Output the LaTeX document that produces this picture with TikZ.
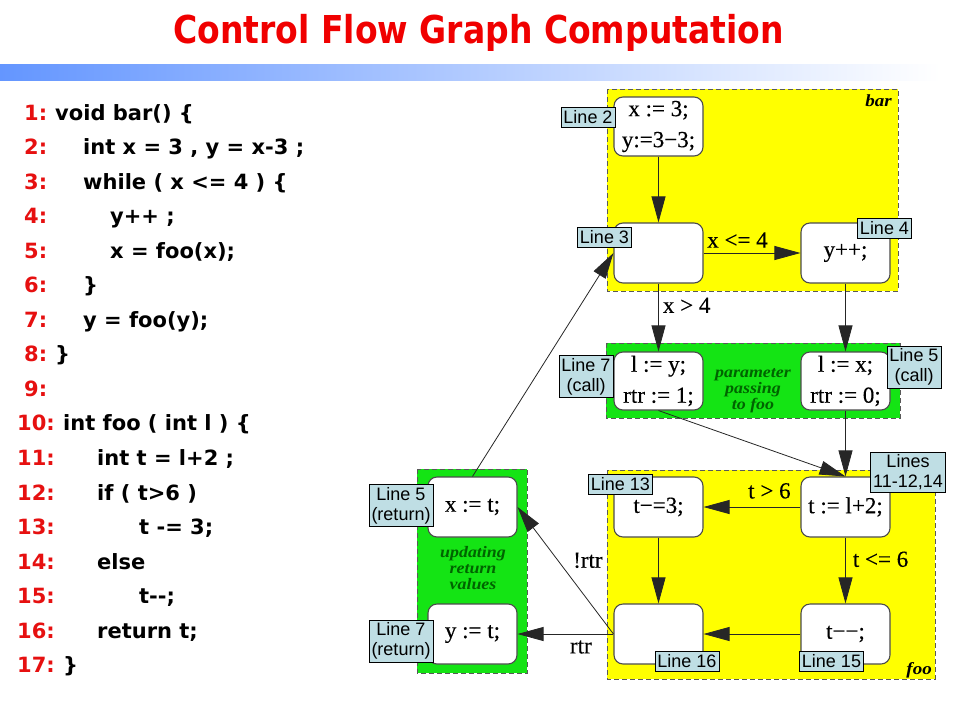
\documentclass[tikz,border=0pt]{standalone}
\usepackage{fontspec}
\usetikzlibrary{arrows.meta}

\newfontfamily\titlefont[FakeStretch=0.86]{DejaVu Sans}
\newfontfamily\codefont[Ligatures=TeXOff]{DejaVu Sans}
\newfontfamily\cfgfont[FakeBold=0.3]{Liberation Serif}
\newfontfamily\notefont[FakeStretch=1.12]{Liberation Serif}
\newfontfamily\tagfont{Liberation Sans}

\definecolor{titlered}{RGB}{240,0,0}
\definecolor{numred}{RGB}{230,16,16}
\definecolor{barblue}{RGB}{100,150,255}
\definecolor{clyellow}{RGB}{255,255,0}
\definecolor{clgreen}{RGB}{20,228,20}
\definecolor{notegreen}{RGB}{0,100,0}
\definecolor{tagblue}{RGB}{191,222,228}

\begin{document}
\begin{tikzpicture}[x=1pt,y=-1pt,
    codeno/.style={anchor=base west,inner sep=0pt,text=numred,font=\codefont\bfseries\fontsize{21}{24}\selectfont},
    code/.style={anchor=base west,inner sep=0pt,font=\codefont\bfseries\fontsize{21}{24}\selectfont},
    cluster/.style={draw=black!65,dash pattern=on 5pt off 3pt,line width=0.9pt},
    block/.style={draw=black!70,line width=1.1pt,rounded corners=9pt,fill=white,minimum width=89pt,minimum height=60pt,align=center,inner sep=1pt,font=\cfgfont\fontsize{23}{31}\selectfont},
    tag/.style={draw=black,line width=0.6pt,fill=tagblue,align=center,inner sep=2.5pt,minimum height=20pt,font=\tagfont\fontsize{18}{20}\selectfont},
    flow/.style={draw=black!85,line width=0.8pt,-{Triangle[length=26pt,width=14pt]}},
    edgelbl/.style={inner sep=1pt,font=\cfgfont\fontsize{23}{24}\selectfont},
    clnote/.style={align=center,inner sep=0pt,text=notegreen,font=\notefont\bfseries\itshape\fontsize{16}{16}\selectfont},
    clname/.style={inner sep=0pt,anchor=east,font=\notefont\bfseries\itshape\fontsize{17}{17}\selectfont}]

\useasboundingbox (0,0) rectangle (960,720);

% title and bar
\node[anchor=base,inner sep=0pt,text=titlered,font=\titlefont\bfseries\fontsize{38.4}{40}\selectfont] (title) at (478.5,43) {Control Flow Graph Computation};
\shade[left color=barblue,right color=white] (0,64) rectangle (940,80);

% source code
\node[codeno] (no1) at (24,120) {1:};   \node[code] (c1) at (55,120) {void bar() \{};
\node[codeno] (no2) at (24,154.5) {2:}; \node[code] (c2) at (83,154.5) {int x = 3 , y = x-3 ;};
\node[codeno] (no3) at (24,189.1) {3:}; \node[code] (c3) at (83,189.1) {while ( x <= 4 ) \{};
\node[codeno] (no4) at (24,223.6) {4:}; \node[code] (c4) at (110,223.6) {y++ ;};
\node[codeno] (no5) at (24,258.2) {5:}; \node[code] (c5) at (110,258.2) {x = foo(x);};
\node[codeno] (no6) at (24,292.7) {6:}; \node[code] (c6) at (83,292.7) {\}};
\node[codeno] (no7) at (24,327.3) {7:}; \node[code] (c7) at (83,327.3) {y = foo(y);};
\node[codeno] (no8) at (24,361.8) {8:}; \node[code] (c8) at (55,361.8) {\}};
\node[codeno] (no9) at (24,396.4) {9:};
\node[codeno] (no10) at (17,430.9) {10:}; \node[code] (c10) at (63,430.9) {int foo ( int l ) \{};
\node[codeno] (no11) at (17,465.5) {11:}; \node[code] (c11) at (97,465.5) {int t = l+2 ;};
\node[codeno] (no12) at (17,500) {12:};   \node[code] (c12) at (97,500) {if ( t>6 )};
\node[codeno] (no13) at (17,534.6) {13:}; \node[code] (c13) at (139,534.6) {t -= 3;};
\node[codeno] (no14) at (17,569.1) {14:}; \node[code] (c14) at (97,569.1) {else};
\node[codeno] (no15) at (17,603.7) {15:}; \node[code] (c15) at (139,603.7) {t--;};
\node[codeno] (no16) at (17,638.2) {16:}; \node[code] (c16) at (97,638.2) {return t;};
\node[codeno] (no17) at (17,672.8) {17:}; \node[code] (c17) at (63,672.8) {\}};

% clusters
\draw[cluster,fill=clyellow] (607,89) rectangle (898,291);
\draw[cluster,fill=clgreen] (606,343) rectangle (900,418);
\draw[cluster,fill=clgreen] (417,469) rectangle (527,673);
\draw[cluster,fill=clyellow] (607,470) rectangle (935,679);
\node[clname] (barname) at (892,101) {bar};
\node[clname] (fooname) at (932,670) {foo};
\node[clnote] (passnote) at (753,391) {parameter\\passing\\to foo};
\node[clnote] (retnote) at (473,568) {updating\\return\\values};

% blocks
\node[block,minimum height=59pt] (n2) at (658.5,126.5) {x := 3;\\y:=3−3;};
\node[block] (n3) at (658.5,253) {};
\node[block] (n4) at (845.5,253) {y++;};
\node[block,minimum height=58pt] (n7c) at (658.5,381) {l := y;\\rtr := 1;};
\node[block,minimum height=58pt] (n5c) at (845.5,381) {l := x;\\rtr := 0;};
\node[block] (n13) at (658.5,507) {t−=3;};
\node[block] (n11) at (845.5,507) {t := l+2;};
\node[block] (n16) at (658.5,634) {};
\node[block] (n15) at (845.5,634) {t−−;};
\node[block] (nxt) at (472.5,507) {x := t;};
\node[block] (nyt) at (472.5,634) {y := t;};

% edges
\draw[flow] (n2) -- (n3);
\draw[flow] (n3) -- node[edgelbl,above=4pt,pos=0.35] (lxle) {x <= 4} (n4);
\draw[flow] (n3) -- node[edgelbl,right=3pt,pos=0.32] (lxgt) {x > 4} (n7c);
\draw[flow] (n4) -- (n5c);
\draw[flow] (n7c.south) -- (n11.north);
\draw[flow] (n5c) -- (n11);
\draw[flow] (n11) -- node[edgelbl,above=7pt,pos=0.32] (ltgt) {t > 6} (n13);
\draw[flow] (n11) -- node[edgelbl,right=6pt,pos=0.33] (ltle) {t <= 6} (n15);
\draw[flow] (n13) -- (n16);
\draw[flow] (n15) -- (n16);
\draw[flow] (n16.west) -- node[edgelbl,below=5pt,pos=0.34] (lrtr) {rtr} (nyt.east);
\draw[flow] (n16.west) -- node[edgelbl,right=14pt,pos=0.58] (lnrtr) {!rtr} (nxt.east);
\draw[flow] (nxt.north) -- (n3.west);

% line tags
\node[tag] (tg2) at (588,117) {Line 2};
\node[tag] (tg3) at (604.5,237) {Line 3};
\node[tag] (tg4) at (884.5,228) {Line 4};
\node[tag] (tg7c) at (586,376.5) {Line 7\\(call)};
\node[tag] (tg5c) at (914,367) {Line 5\\(call)};
\node[tag] (tg11) at (908,472.5) {Lines\\11-12,14};
\node[tag] (tg13) at (620.5,484) {Line 13};
\node[tag] (tg5r) at (401,505.5) {Line 5\\(return)};
\node[tag] (tg7r) at (401,641) {Line 7\\(return)};
\node[tag] (tg16) at (687,661) {Line 16};
\node[tag] (tg15) at (831.5,661) {Line 15};
\end{tikzpicture}
\end{document}
